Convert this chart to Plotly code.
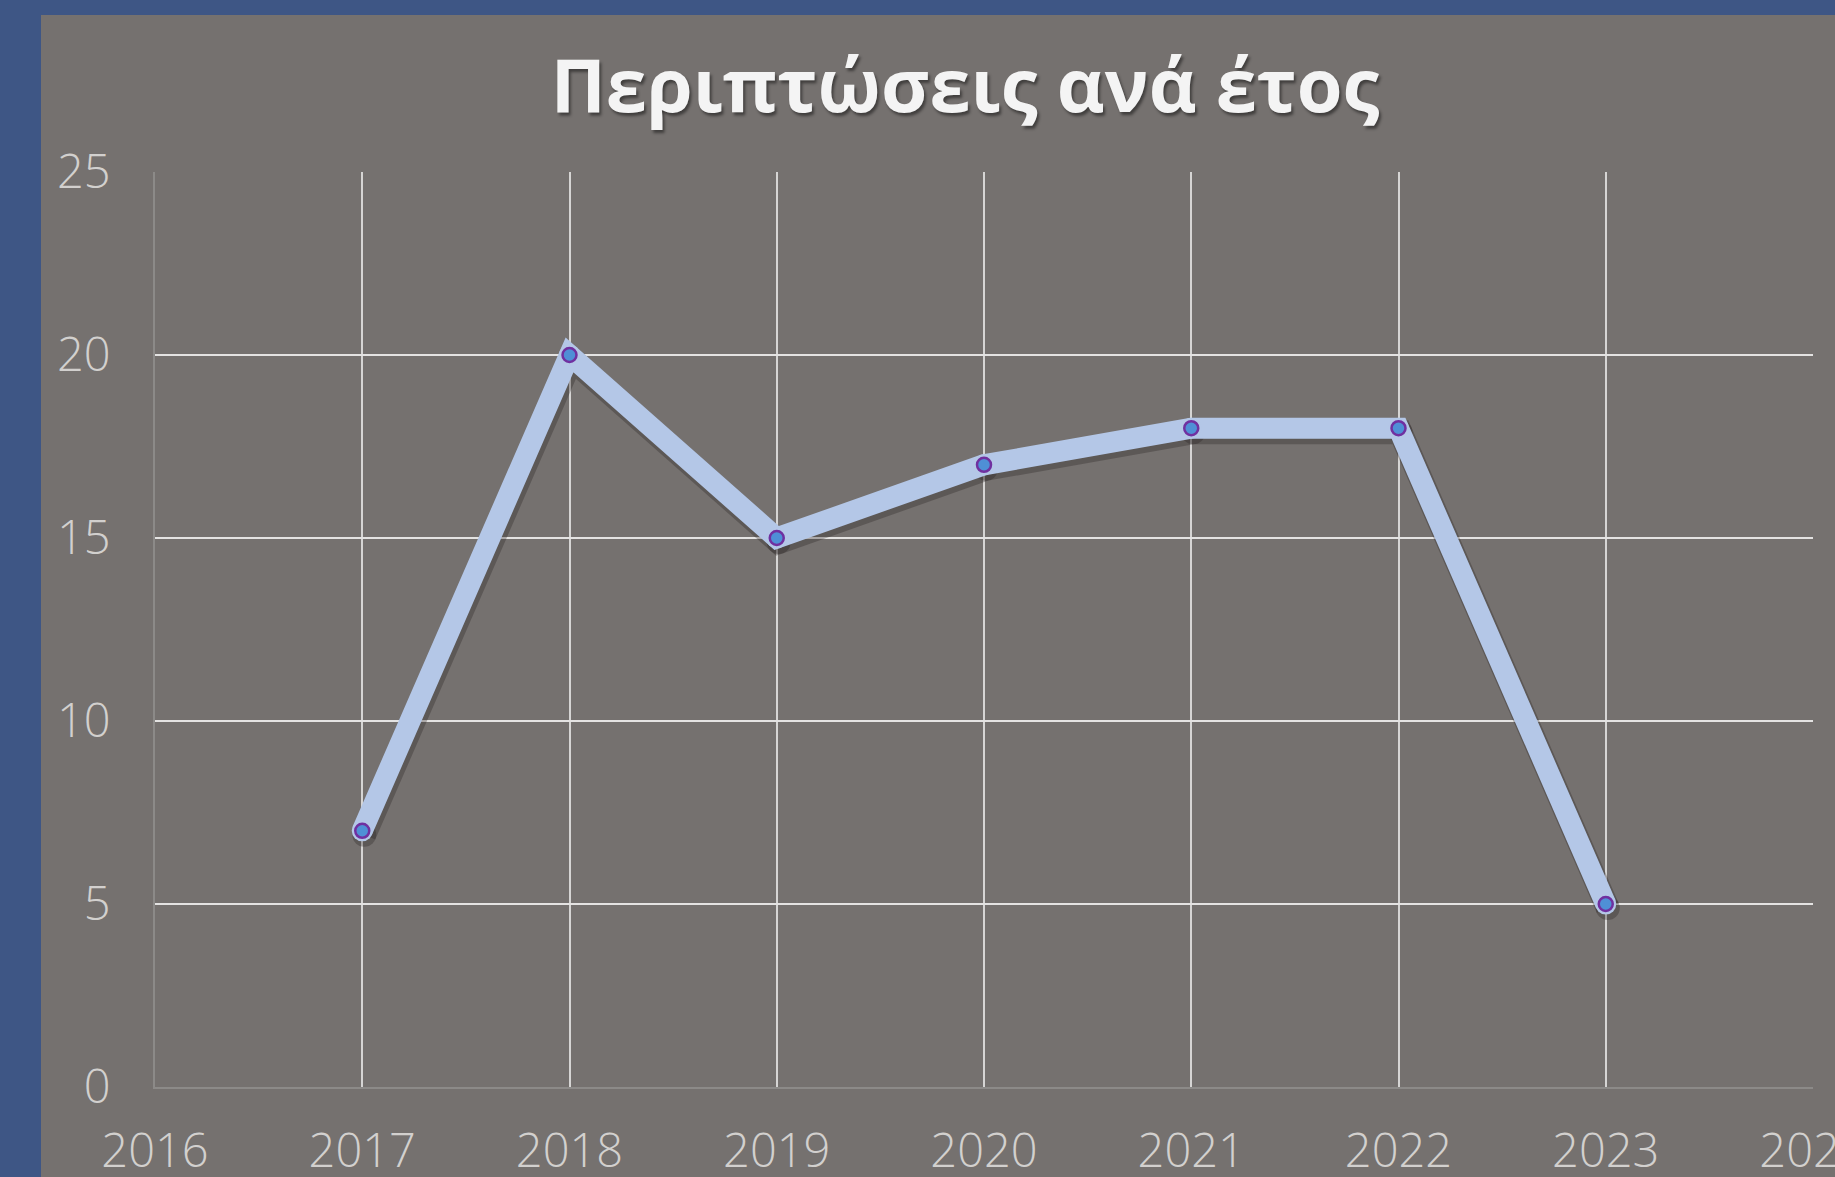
import plotly.graph_objects as go

years = [2017, 2018, 2019, 2020, 2021, 2022, 2023]
cases = [7, 20, 15, 17, 18, 18, 5]
title_text = "Περιπτώσεις ανά έτος"
x_ticks = [2016, 2017, 2018, 2019, 2020, 2021, 2022, 2023, 2024]
y_ticks = [0, 5, 10, 15, 20, 25]

W, H = 1835, 1177
L, R, T, B = 155, 22, 172, 90
pw, ph = W - L - R, H - T - B
X_RANGE = [2016, 2024]
Y_RANGE = [0, 25]
# shadow offset in pixels (right, down), converted to axis shifts
sdx, sdy = 2, 4
x_shift = sdx / pw * (X_RANGE[1] - X_RANGE[0])
y_shift = sdy / ph * (Y_RANGE[1] - Y_RANGE[0])

fig = go.Figure()

# soft offset shadow under the line (drawn on shifted overlay axes x2/y2)
fig.add_trace(go.Scatter(
    x=years, y=cases, mode="lines+markers", xaxis="x2", yaxis="y2",
    line=dict(color="rgba(35,30,30,0.3)", width=24),
    marker=dict(size=24, color="rgba(35,30,30,0.3)", line=dict(width=0)),
    hoverinfo="skip", showlegend=False))
# thick light-blue line with round ends (overlay axes x3/y3, same ranges as main)
fig.add_trace(go.Scatter(
    x=years, y=cases, mode="lines+markers", xaxis="x3", yaxis="y3",
    line=dict(color="#b4c7e7", width=21),
    marker=dict(size=21, color="#b4c7e7", line=dict(width=0)),
    showlegend=False))
# small markers
fig.add_trace(go.Scatter(
    x=years, y=cases, mode="markers", xaxis="x3", yaxis="y3",
    marker=dict(size=14, color="#4f8fd6", line=dict(color="#7030a0", width=2.5)),
    showlegend=False))
# invisible trace to anchor the main axes
fig.add_trace(go.Scatter(x=years, y=cases, mode="none", hoverinfo="skip", showlegend=False))

# gray panel behind the chart
fig.add_shape(type="rect", xref="paper", yref="paper",
              x0=(41 - L) / pw, x1=1.05, y0=-0.2, y1=(H - B - 15) / ph,
              fillcolor="#75716f", line=dict(width=0), layer="below")

tick_font = dict(family="Open Sans, Lato, sans-serif", size=47, color="#d2d0ce", weight=300)
hidden = dict(visible=False, fixedrange=True, automargin=False)

fig.update_layout(
    width=W, height=H,
    margin=dict(l=L, r=R, t=T, b=B, autoexpand=False),
    paper_bgcolor="#3e5685",
    plot_bgcolor="#75716f",
    title=dict(text=title_text, x=(965 - L) / pw, xref="paper", xanchor="center",
               y=1 - 86 / H, yref="container", yanchor="middle",
               font=dict(family="Open Sans, Noto Sans, sans-serif", size=74, color="#f4f4f4",
                         weight=700, shadow="2px 3px 3px rgba(0,0,0,0.45)")),
    xaxis=dict(range=X_RANGE, tickvals=x_ticks, ticktext=[str(v) for v in x_ticks],
               showgrid=True, gridcolor="#d6d5d4", gridwidth=1.5,
               showline=True, linecolor="#8c8a88", linewidth=2,
               zeroline=False, ticks="", ticklabelstandoff=22, ticklabeloverflow="allow",
               tickfont=tick_font, fixedrange=True, automargin=False),
    yaxis=dict(range=Y_RANGE, tickvals=y_ticks,
               showgrid=True, gridcolor="#e4e3e2", gridwidth=1.8,
               showline=True, linecolor="#8c8a88", linewidth=2,
               zeroline=False, ticks="", ticklabelstandoff=33,
               tickfont=tick_font, fixedrange=True, automargin=False),
    xaxis2=dict(range=[X_RANGE[0] - x_shift, X_RANGE[1] - x_shift], overlaying="x", **hidden),
    yaxis2=dict(range=[Y_RANGE[0] + y_shift, Y_RANGE[1] + y_shift], overlaying="y", **hidden),
    xaxis3=dict(range=X_RANGE, overlaying="x", **hidden),
    yaxis3=dict(range=Y_RANGE, overlaying="y", **hidden),
)

fig.write_html("out.html", config={"displayModeBar": False},
               post_script="document.body.style.margin='0';document.body.style.overflow='hidden';")
